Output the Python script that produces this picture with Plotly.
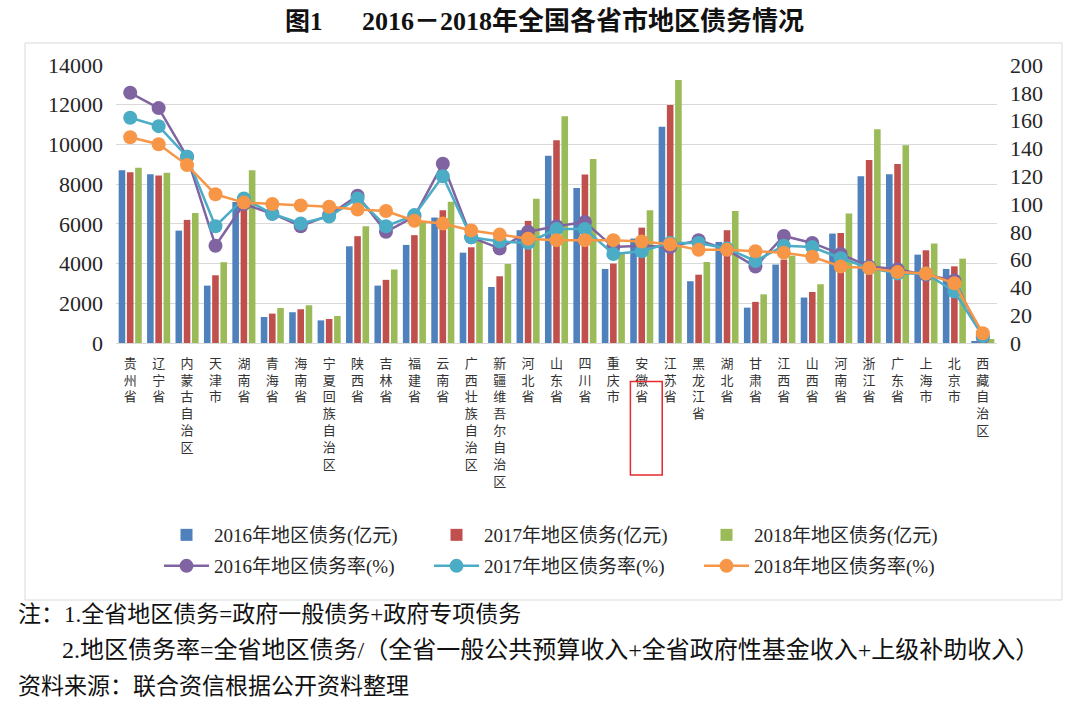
import plotly.graph_objects as go

categories = ['贵州省', '辽宁省', '内蒙古自治区', '天津市', '湖南省', '青海省', '海南省',
              '宁夏回族自治区', '陕西省', '吉林省', '福建省', '云南省', '广西壮族自治区',
              '新疆维吾尔自治区', '河北省', '山东省', '四川省', '重庆市', '安徽省', '江苏省',
              '黑龙江省', '湖北省', '甘肃省', '江西省', '山西省', '河南省', '浙江省', '广东省',
              '上海市', '北京市', '西藏自治区']

debt2016 = [8700, 8500, 5660, 2890, 7100, 1310, 1550, 1140, 4870, 2890, 4940, 6320, 4550, 2820,
            5680, 9430, 7810, 3730, 5260, 10890, 3110, 5090, 1780, 3950, 2290, 5510, 8400, 8500,
            4450, 3730, 60]
debt2017 = [8600, 8430, 6200, 3410, 7300, 1480, 1700, 1210, 5380, 3180, 5430, 6690, 4820, 3360,
            6150, 10210, 8480, 4000, 5810, 11980, 3440, 5680, 2070, 4200, 2570, 5540, 9210, 9010,
            4670, 3860, 110]
debt2018 = [8820, 8570, 6550, 4070, 8700, 1760, 1900, 1360, 5880, 3700, 6100, 7110, 5170, 3980,
            7260, 11420, 9270, 4500, 6690, 13240, 4080, 6650, 2450, 4400, 2960, 6520, 10770, 9960,
            5010, 4250, 200]

rate2016 = [180, 169, 134, 70, 100, 93, 84, 92, 106, 80, 91, 129, 76, 68, 80, 84, 87, 69, 70, 69,
            74, 67, 55, 77, 72, 64, 55, 53, 49, 45, 4]
rate2017 = [162, 156, 134, 84, 104, 93, 86, 91, 104, 84, 92, 120, 76, 73, 72, 82, 82, 64, 66, 72,
            72, 68, 59, 70, 69, 61, 54, 50, 50, 37, 5]
rate2018 = [148, 143, 128, 107, 101, 100, 99, 98, 96, 95, 88, 86, 81, 78, 75, 74, 74, 74, 73, 71,
            67, 67, 66, 65, 62, 55, 54, 51, 50, 43, 7]

bar_names = ['2016年地区债务(亿元)', '2017年地区债务(亿元)', '2018年地区债务(亿元)']
line_names = ['2016年地区债务率(%)', '2017年地区债务率(%)', '2018年地区债务率(%)']
left_ticks = [0, 2000, 4000, 6000, 8000, 10000, 12000, 14000]
right_ticks = [0, 20, 40, 60, 80, 100, 120, 140, 160, 180, 200]

title_fig = '图1'
title_text = '2016－2018年全国各省市地区债务情况'
note1 = '注：1.全省地区债务=政府一般债务+政府专项债务'
note2 = '2.地区债务率=全省地区债务/（全省一般公共预算收入+全省政府性基金收入+上级补助收入）'
note3 = '资料来源：联合资信根据公开资料整理'
highlight = '安徽省'

bar_colors = ['#4F81BD', '#C0504D', '#9BBB59']
line_colors = ['#8064A2', '#4BACC6', '#F79646']

FONT = 'Liberation Serif, Noto Sans CJK SC, serif'
W, H = 1080, 711
L, R, T, B = 116, 997, 65, 343


def px2x(px):
    return (px - L) / (R - L)


def px2y(py):
    return (B - py) / (B - T)


fig = go.Figure()
for name, vals, col in zip(bar_names, [debt2016, debt2017, debt2018], bar_colors):
    fig.add_trace(go.Bar(x=categories, y=vals, name=name, marker_color=col,
                         marker_line_width=0, legend='legend'))
for name, vals, col in zip(line_names, [rate2016, rate2017, rate2018], line_colors):
    fig.add_trace(go.Scatter(x=categories, y=vals, name=name, yaxis='y2', mode='lines+markers',
                             line=dict(color=col, width=2.5),
                             marker=dict(color=col, size=14), legend='legend2'))

ticktext = ['<br>'.join(list(c)) for c in categories]
hi = categories.index(highlight)

legend_common = dict(orientation='h', xanchor='left', yanchor='middle',
                     entrywidth=210, entrywidthmode='pixels', itemwidth=45,
                     font=dict(family=FONT, size=19, color='#262626'),
                     traceorder='normal', bgcolor='rgba(0,0,0,0)')

fig.update_layout(
    width=W, height=H,
    margin=dict(l=L, r=W - R, t=T, b=H - B),
    paper_bgcolor='white', plot_bgcolor='white',
    font=dict(family=FONT, color='#262626'),
    barmode='group', bargap=0.13, bargroupgap=0.2,
    showlegend=True,
    legend=dict(x=px2x(159), y=px2y(535), **legend_common),
    legend2=dict(x=px2x(159), y=px2y(566), **legend_common),
    xaxis=dict(type='category', tickvals=categories, ticktext=ticktext,
               tickfont=dict(family=FONT, size=13, color='#333333'),
               tickangle=0, showgrid=False, showline=True, linecolor='#D9D9D9',
               linewidth=1, ticks='', ticklabelstandoff=8, range=[-0.5, len(categories) - 0.5]),
    yaxis=dict(range=[0, 14000], tickvals=left_ticks, ticktext=[str(v) for v in left_ticks],
               showgrid=True, gridcolor='#D9D9D9',
               gridwidth=1, zeroline=False, showline=False, ticks='',
               tickfont=dict(family=FONT, size=22, color='#262626'), ticklabelstandoff=12),
    yaxis2=dict(range=[0, 200], tickvals=right_ticks, ticktext=[str(v) for v in right_ticks],
                overlaying='y', side='right',
                showgrid=False, zeroline=False, showline=False, ticks='',
                tickfont=dict(family=FONT, size=22, color='#262626'), ticklabelstandoff=12),
    shapes=[
        dict(type='rect', xref='paper', yref='paper', x0=px2x(25), x1=px2x(1062),
             y0=px2y(600), y1=px2y(43), line=dict(color='#D9D9D9', width=1), layer='below'),
        dict(type='rect', xref='x', yref='paper', x0=hi - 0.4, x1=hi + 0.72,
             y0=px2y(475), y1=px2y(381.5), line=dict(color='#E8292E', width=1.5)),
    ],
    annotations=[
        dict(text='<b>' + title_fig + '</b>', xref='paper', yref='paper', x=px2x(283),
             y=px2y(21), xanchor='left', yanchor='middle', showarrow=False,
             font=dict(family=FONT, size=25, color='#111111')),
        dict(text='<b>' + title_text + '</b>', xref='paper', yref='paper', x=px2x(360),
             y=px2y(21), xanchor='left', yanchor='middle', showarrow=False,
             font=dict(family=FONT, size=26, color='#111111')),
        dict(text=note1, xref='paper', yref='paper', x=px2x(16), y=px2y(614),
             xanchor='left', yanchor='middle', showarrow=False,
             font=dict(family=FONT, size=23, color='#111111')),
        dict(text=note2, xref='paper', yref='paper', x=px2x(60), y=px2y(650),
             xanchor='left', yanchor='middle', showarrow=False,
             font=dict(family=FONT, size=24, color='#111111')),
        dict(text=note3, xref='paper', yref='paper', x=px2x(16), y=px2y(686),
             xanchor='left', yanchor='middle', showarrow=False,
             font=dict(family=FONT, size=23, color='#111111')),
    ],
)

fig.write_html('out.html')
